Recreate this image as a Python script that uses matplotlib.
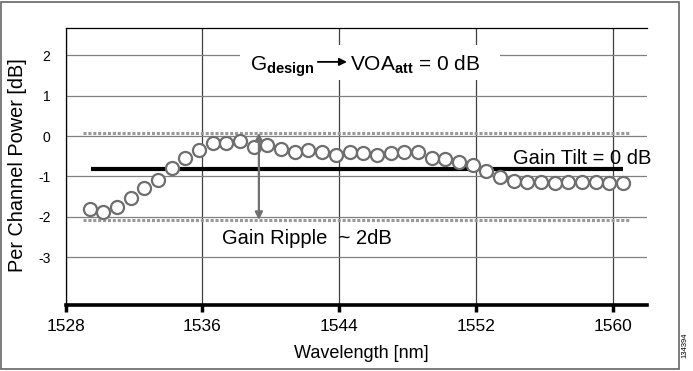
import matplotlib
matplotlib.use("Agg")
import matplotlib.pyplot as plt
from matplotlib.patches import Rectangle

plt.rcParams['font.family'] = ['Liberation Sans', 'DejaVu Sans']
plt.rcParams['mathtext.fontset'] = 'custom'
plt.rcParams['mathtext.rm'] = 'Liberation Sans'
plt.rcParams['mathtext.bf'] = 'Liberation Sans:bold'

# ---- data ----
wavelength = [1529.4, 1530.2, 1531.0, 1531.8, 1532.6, 1533.4, 1534.2, 1535.0, 1535.8, 1536.6,
              1537.4, 1538.2, 1539.0, 1539.8, 1540.6, 1541.4, 1542.2, 1543.0, 1543.8, 1544.6,
              1545.4, 1546.2, 1547.0, 1547.8, 1548.6, 1549.4, 1550.2, 1551.0, 1551.8, 1552.6,
              1553.4, 1554.2, 1555.0, 1555.8, 1556.6, 1557.4, 1558.2, 1559.0, 1559.8, 1560.6]
power = [-1.82, -1.89, -1.75, -1.53, -1.30, -1.08, -0.78, -0.54, -0.35, -0.17,
         -0.17, -0.12, -0.27, -0.22, -0.32, -0.39, -0.35, -0.39, -0.47, -0.40,
         -0.41, -0.47, -0.41, -0.40, -0.40, -0.54, -0.58, -0.64, -0.72, -0.86,
         -1.01, -1.12, -1.13, -1.13, -1.17, -1.13, -1.13, -1.13, -1.17, -1.17]

ripple_top = 0.08
ripple_bottom = -2.08
ripple_x = [1529.0, 1561.0]
tilt_level = -0.82
tilt_x = [1529.5, 1560.6]
arrow_x = 1539.3

xticks = [1528, 1536, 1544, 1552, 1560]
yticks = [2, 1, 0, -1, -2, -3]
ytick_labels = ["2", "1", "0", "-1", "-2", "-3"]

fig = plt.figure(figsize=(6.93, 3.71), dpi=100)
ax = fig.add_axes([0.0948, 0.1779, 0.8388, 0.7466])
ax.set_xlim(1528, 1562)
ax.set_ylim(-4.19, 2.68)

ax.set_xticks(xticks)
ax.set_xticklabels([str(t) for t in xticks], fontsize=12.5)
ax.set_yticks(yticks)
ax.set_yticklabels(ytick_labels, fontsize=10)
ax.tick_params(axis='x', direction='out', length=5, width=2.5, pad=5, color='black')
ax.tick_params(axis='y', length=0, pad=11)

ax.xaxis.grid(True, color='#404040', lw=0.9, zorder=0)
ax.yaxis.grid(True, color='#808080', lw=0.9, zorder=0)
ax.set_axisbelow(True)

ax.spines['right'].set_visible(False)
ax.spines['top'].set_linewidth(0.9)
ax.spines['left'].set_linewidth(0.9)
ax.spines['bottom'].set_linewidth(2.6)

# dotted ripple bounds
ax.plot(ripple_x, [ripple_top, ripple_top], color='#999999', lw=2.2, ls=(0, (1, 0.6)), zorder=2)
ax.plot(ripple_x, [ripple_bottom, ripple_bottom], color='#999999', lw=2.2, ls=(0, (1, 0.6)), zorder=2)

# tilt line
ax.plot(tilt_x, [tilt_level, tilt_level], color='black', lw=3, solid_capstyle='butt', zorder=3)

# data points
ax.plot(wavelength, power, ls='none', marker='o', ms=9.4, mfc='white', mec='#6e6e6e', mew=1.6, zorder=4)

# ripple arrow
ax.annotate('', xy=(arrow_x, ripple_bottom), xytext=(arrow_x, ripple_top),
            arrowprops=dict(arrowstyle='<|-|>', color='#707070', lw=1.6, mutation_scale=11,
                            shrinkA=0, shrinkB=0), zorder=5)

# white box behind title text
ax.add_patch(Rectangle((1538.2, 1.39), 15.2, 0.87, facecolor='white', edgecolor='none', zorder=1.5))

ax.text(1538.78, 1.64, r'G$_{\mathbf{design}}$', fontsize=15, va='baseline', ha='left', zorder=6)
ax.annotate('', xy=(1544.45, 1.84), xytext=(1542.75, 1.84),
            arrowprops=dict(arrowstyle='-|>', color='black', lw=1.3, mutation_scale=11,
                            shrinkA=0, shrinkB=0), zorder=6)
ax.text(1544.6, 1.64, r'VOA$_{\mathbf{att}}$ = 0 dB', fontsize=15, va='baseline', ha='left', zorder=6)

ax.text(1554.16, -0.69, 'Gain Tilt = 0 dB', fontsize=14.5, va='baseline', ha='left', zorder=6)
ax.text(1537.14, -2.68, 'Gain Ripple  ~ 2dB', fontsize=14.5, va='baseline', ha='left', zorder=6)

ax.set_xlabel('Wavelength [nm]', fontsize=13)
ax.xaxis.set_label_coords(0.509, -0.145)
ax.set_ylabel('Per Channel Power [dB]', fontsize=14.3)
ax.yaxis.set_label_coords(-0.066, 0.505)

# outer frame
fig.patches.append(Rectangle((1 / 693, 2 / 371), 678 / 693, 367 / 371, transform=fig.transFigure,
                             fill=False, edgecolor='#666666', lw=1.2))
fig.text(685 / 693, 1 - 345 / 371, '134394', rotation=90, fontsize=5.5, ha='center', va='center')

fig.savefig('out.png', dpi=100)
